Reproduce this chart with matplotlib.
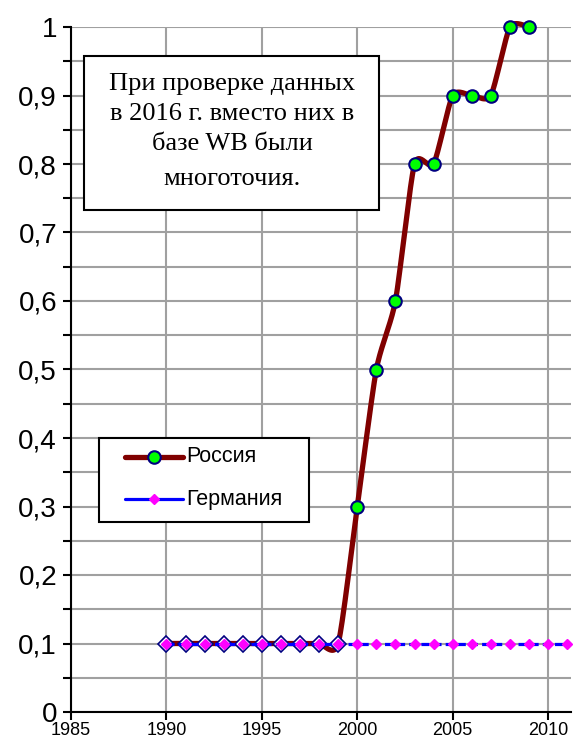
import numpy as np
import matplotlib
matplotlib.use('Agg')
from matplotlib import pyplot as plt
from matplotlib.lines import Line2D
from matplotlib.patches import Rectangle
from matplotlib.ticker import MultipleLocator, FuncFormatter

years_ru = list(range(1990, 2010))
russia = [0.1, 0.1, 0.1, 0.1, 0.1, 0.1, 0.1, 0.1, 0.1, 0.1,
          0.3, 0.5, 0.6, 0.8, 0.8, 0.9, 0.9, 0.9, 1.0, 1.0]
years_de = list(range(1990, 2012))
germany = [0.1] * len(years_de)

note_lines = ["При проверке данных", "в 2016 г. вместо них в", "базе WB были", "многоточия."]
names = ['Россия', 'Германия']

W, H = 573, 738
ASP = 26.2 * 685 / 500  # y-units -> x-units on screen


def smooth(x, y, k=9.0, n=30):
    # сглаживание линии, похоже на Excel (кривые Безье)
    x = np.asarray(x, float)
    ys = np.asarray(y, float) * ASP
    xo, yo = [], []
    m = len(x)
    for i in range(m - 1):
        p0 = np.array([x[max(i - 1, 0)], ys[max(i - 1, 0)]])
        p1 = np.array([x[i], ys[i]])
        p2 = np.array([x[i + 1], ys[i + 1]])
        p3 = np.array([x[min(i + 2, m - 1)], ys[min(i + 2, m - 1)]])
        c1 = p1 + (p2 - p0) / k
        c2 = p2 - (p3 - p1) / k
        t = np.linspace(0, 1, n)[:, None]
        pts = (1 - t) ** 3 * p1 + 3 * (1 - t) ** 2 * t * c1 + 3 * (1 - t) * t ** 2 * c2 + t ** 3 * p2
        xo.extend(pts[:, 0])
        yo.extend(pts[:, 1])
    return np.array(xo), np.array(yo) / ASP


def fx(x):
    return x / W


def fy(y):
    return 1 - y / H


fig = plt.figure(figsize=(W / 100, H / 100), dpi=100)
ax = fig.add_axes([fx(71), fy(712), fx(571) - fx(71), fy(27) - fy(712)])

ax.set_xlim(1985, 2011.2)
ax.set_ylim(0, 1)
ax.xaxis.set_major_locator(MultipleLocator(5))
ax.yaxis.set_major_locator(MultipleLocator(0.1))
ax.yaxis.set_minor_locator(MultipleLocator(0.05))
ax.yaxis.set_major_formatter(FuncFormatter(lambda v, p: ('%g' % round(v, 2)).replace('.', ',')))
ax.grid(True, which='major', axis='x', color='#a0a0a0', lw=1.5)
ax.grid(True, which='both', axis='y', color='#a0a0a0', lw=1.5)
ax.set_axisbelow(True)
for s in ['top', 'right']:
    ax.spines[s].set_visible(False)
ax.spines['left'].set_linewidth(1.5)
ax.spines['bottom'].set_linewidth(1.5)
ax.tick_params(axis='y', which='both', direction='out', length=6, width=1.5, labelsize=20, pad=4)
ax.tick_params(axis='x', direction='out', length=6, width=1.5, labelsize=13, pad=1)
for lab in ax.get_xticklabels() + ax.get_yticklabels():
    lab.set_fontfamily('Liberation Sans')

ru_style = dict(color='#800000', lw=3.8)
ru_mark = dict(marker='o', ms=9, mfc='#00ff00', mec='#000080', mew=1.5)
de_style = dict(color='#0000ff', lw=2.3)
de_mark = dict(marker='D', ms=5, mfc='#ff00ff', mec='#ff00ff')

sx, sy = smooth(years_ru, russia)
ax.plot(sx, sy, solid_capstyle='round', zorder=3, clip_on=False, **ru_style)
ax.plot(years_ru[:10], russia[:10], ls='none', marker='D', ms=8, mfc='white', mec='#000080',
        mew=1.2, zorder=4, clip_on=False)
ax.plot(years_ru[10:], russia[10:], ls='none', zorder=6, clip_on=False, **ru_mark)
ax.plot(years_de, germany, ls=(0, (2.5, 1.3)), dash_capstyle='butt', zorder=5, clip_on=False,
        **de_style)
ax.plot(years_de, germany, ls='none', zorder=5, clip_on=False, **de_mark)

# текстовое поле
fig.patches.append(Rectangle((fx(84), fy(210)), fx(379) - fx(84), fy(56) - fy(210),
                             transform=fig.transFigure, fc='white', ec='black', lw=1.5, zorder=10))
for yy, line in zip([84, 114, 144, 179], note_lines):
    fig.text(fx(232), fy(yy), line, ha='center', va='center', fontsize=19,
             family='Liberation Serif', zorder=11)

# легенда
fig.patches.append(Rectangle((fx(99), fy(522)), fx(309) - fx(99), fy(438) - fy(522),
                             transform=fig.transFigure, fc='white', ec='black', lw=1.5, zorder=10))
rows = [457, 499]
for r, st, mk, name in zip(rows, [ru_style, de_style], [ru_mark, de_mark], names):
    fig.add_artist(Line2D([fx(125), fx(183)], [fy(r), fy(r)], transform=fig.transFigure,
                          solid_capstyle='round', zorder=11, **st))
    fig.add_artist(Line2D([fx(154)], [fy(r)], transform=fig.transFigure, ls='none', zorder=12, **mk))
    fig.text(fx(186), fy(r), name, ha='left', va='center', fontsize=15.5,
             family='Liberation Sans', zorder=12)

fig.savefig('out.png', dpi=100)
